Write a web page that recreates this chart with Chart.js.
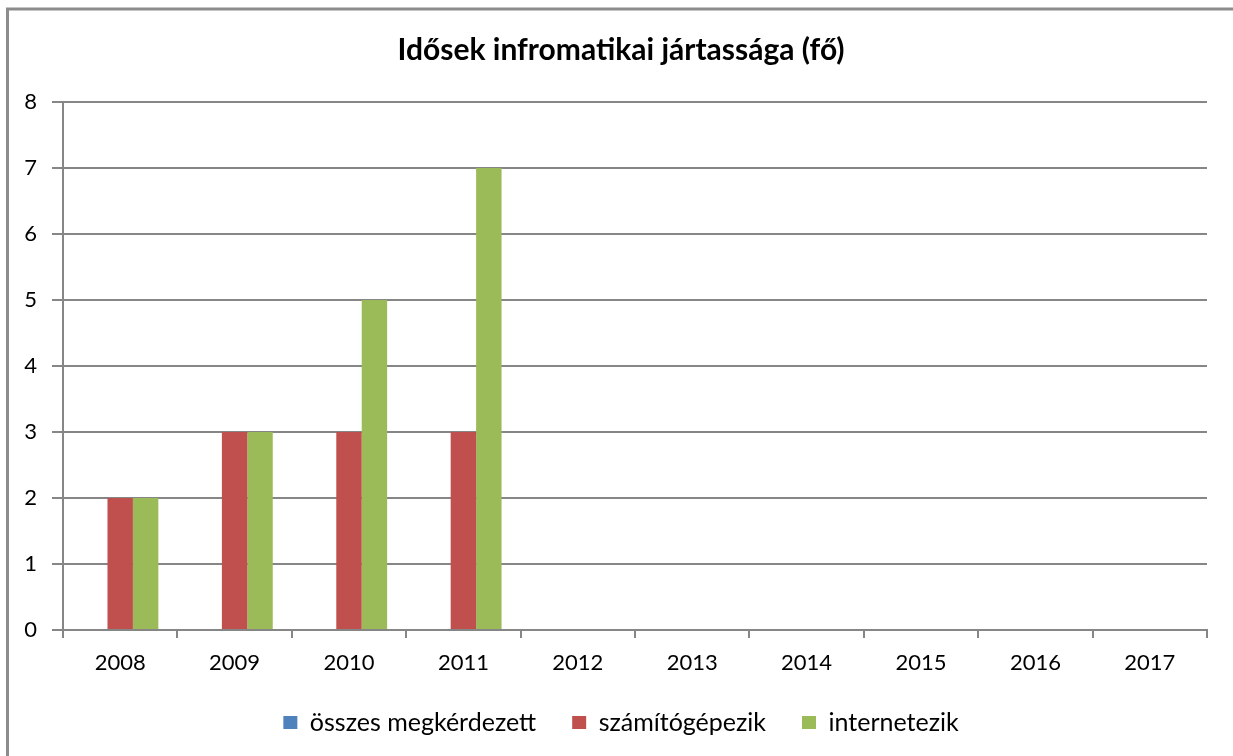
<!DOCTYPE html>
<html>
<head>
<meta charset="utf-8">
<script src="https://cdn.jsdelivr.net/npm/chart.js@4.4.1/dist/chart.umd.min.js"></script>
<style>
  html, body { margin: 0; padding: 0; background: #fff; }
  #wrap { width: 1233px; height: 756px; position: relative; }
</style>
</head>
<body>
<div id="wrap"><canvas id="c" width="1233" height="756"></canvas></div>
<script>
const chartTitle = 'Idősek infromatikai jártassága (fő)';
const years = ['2008', '2009', '2010', '2011', '2012', '2013', '2014', '2015', '2016', '2017'];
const seriesNames = ['összes megkérdezett', 'számítógépezik', 'internetezik'];
const osszesMegkerdezett = [null, null, null, null, null, null, null, null, null, null];
const szamitogepezik = [2, 3, 3, 3, null, null, null, null, null, null];
const internetezik = [2, 3, 5, 7, null, null, null, null, null, null];
const yTicks = [0, 1, 2, 3, 4, 5, 6, 7, 8];

const FONT = 'Lato, "Open Sans", sans-serif';
const GRID = '#868686';

// Grey frame around the whole chart object
const framePlugin = {
  id: 'frame',
  beforeDraw(chart) {
    const ctx = chart.ctx;
    ctx.save();
    ctx.fillStyle = '#fff';
    ctx.fillRect(0, 0, chart.width, chart.height);
    ctx.strokeStyle = '#8c8c8c';
    ctx.lineWidth = 3;
    ctx.strokeRect(7.5, 9, chart.width + 20, chart.height + 20);
    ctx.restore();
  }
};

new Chart(document.getElementById('c'), {
  type: 'bar',
  data: {
    labels: years,
    datasets: [
      { label: seriesNames[0], data: osszesMegkerdezett, backgroundColor: '#4F81BD' },
      { label: seriesNames[1], data: szamitogepezik, backgroundColor: '#C0504D' },
      { label: seriesNames[2], data: internetezik, backgroundColor: '#9BBB59' }
    ]
  },
  options: {
    responsive: false,
    animation: false,
    devicePixelRatio: 1,
    categoryPercentage: 0.667,
    barPercentage: 1.0,
    layout: { padding: { left: 9, right: 0, top: 0, bottom: 11 } },
    plugins: {
      title: {
        display: true,
        text: chartTitle,
        color: '#000',
        font: { family: FONT, size: 30, weight: 'bold', lineHeight: 1.2 },
        padding: { top: 32, bottom: 34 }
      },
      legend: {
        position: 'bottom',
        labels: {
          color: '#000',
          font: { family: FONT, size: 25 },
          boxWidth: 14,
          boxHeight: 13,
          padding: 36,
          useBorderRadius: false
        }
      },
      tooltip: { enabled: false }
    },
    scales: {
      x: {
        grid: { display: true, drawOnChartArea: false, drawTicks: true, tickLength: 8, color: GRID, lineWidth: 2, offset: true },
        border: { display: true, color: GRID, width: 2 },
        ticks: { color: '#000', font: { family: FONT, size: 22, lineHeight: 1 }, padding: 14, maxRotation: 0 },
        afterFit(scale) { scale.height = 44; }
      },
      y: {
        min: 0,
        max: 8,
        afterBuildTicks(scale) { scale.ticks = yTicks.map(v => ({ value: v })); },
        grid: { color: GRID, lineWidth: 2, tickLength: 11 },
        border: { display: true, color: GRID, width: 2 },
        ticks: { color: '#000', font: { family: FONT, size: 22 }, padding: 15 },
        afterFit(scale) { scale.width = 54; }
      },
      // empty margin strip on the right of the plot
      yRight: {
        position: 'right',
        min: 0,
        max: 8,
        grid: { display: false },
        border: { display: false },
        ticks: { display: false },
        afterFit(scale) { scale.width = 26; }
      }
    }
  },
  plugins: [framePlugin]
});
</script>
</body>
</html>
